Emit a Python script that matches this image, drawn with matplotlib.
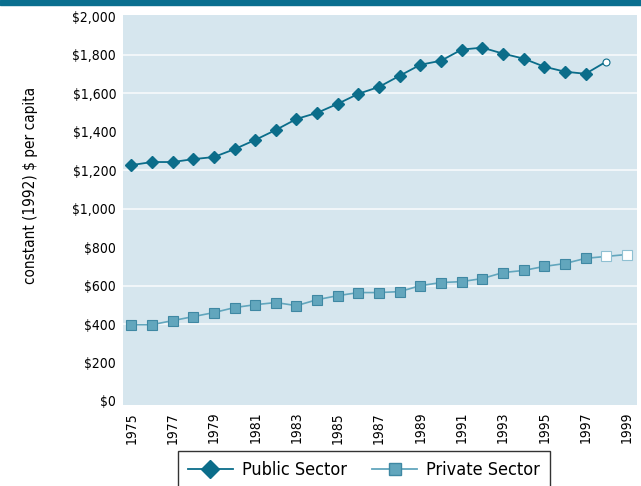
import numpy as np
import matplotlib.pyplot as plt
from matplotlib.lines import Line2D

years = np.arange(1975, 2000)
public = [1227, 1243, 1243, 1258, 1269, 1310, 1358, 1410, 1467, 1499, 1546, 1598,
          1634, 1692, 1749, 1770, 1828, 1838, 1807, 1781, 1739, 1713, 1702, 1765]
private = [397, 397, 418, 439, 460, 486, 501, 512, 496, 527, 548, 564, 564, 569,
           600, 616, 621, 637, 668, 679, 700, 715, 742, 752, 762]
n_public_solid = 23
n_private_solid = 23

yticks = [0, 200, 400, 600, 800, 1000, 1200, 1400, 1600, 1800, 2000]
ytick_labels = ['$0', '$200', '$400', '$600', '$800', '$1,000', '$1,200',
                '$1,400', '$1,600', '$1,800', '$2,000']
grid_levels = [400, 600, 1000, 1200, 1600, 1800]
xticks = np.arange(1975, 2000, 2)

pub_c = '#0b6d8a'
priv_c = '#62a6bd'
priv_edge = '#3f88a3'
bg = '#d6e6ee'

plt.rcParams['font.family'] = ['DejaVu Sans']
plt.rcParams['font.stretch'] = 'condensed'
plt.rcParams['font.size'] = 10

fig = plt.figure(figsize=(6.41, 4.86), dpi=100)
ax = fig.add_axes([0.192, 0.167, 0.802, 0.803])
ax.set_facecolor(bg)

for g in grid_levels:
    ax.axhline(g, color='white', lw=1.2, alpha=0.8, zorder=1)

pyr = years[:len(public)]
ax.plot(pyr, public, color=pub_c, lw=1.3, zorder=2)
ax.plot(pyr[:n_public_solid], public[:n_public_solid], ls='none', marker='D', ms=6,
        mfc=pub_c, mec=pub_c, zorder=3)
ax.plot(pyr[n_public_solid:], public[n_public_solid:], ls='none', marker='o', ms=5,
        mfc='white', mec=pub_c, mew=0.8, zorder=3)

ax.plot(years, private, color=priv_c, lw=1.2, zorder=2)
ax.plot(years[:n_private_solid], private[:n_private_solid], ls='none', marker='s', ms=7,
        mfc=priv_c, mec=priv_edge, mew=0.8, zorder=3)
ax.plot(years[n_private_solid:], private[n_private_solid:], ls='none', marker='s', ms=7,
        mfc='white', mec='#8fc0d2', mew=0.8, zorder=3)

ax.set_xlim(1974.6, 1999.5)
ax.set_ylim(-20, 2010)
ax.set_yticks(yticks)
ax.set_yticklabels(ytick_labels, fontsize=10)
ax.set_xticks(xticks)
ax.set_xticklabels([str(x) for x in xticks], rotation=90, fontsize=10)
ax.tick_params(length=0, pad=5)
for s in ax.spines.values():
    s.set_visible(False)
fig.text(0.048, 1 - 185 / 486, 'constant (1992) $ per capita', fontsize=11,
         rotation=90, ha='center', va='center')

handles = [Line2D([], [], color=pub_c, lw=1.3, marker='D', ms=9, mfc=pub_c, mec=pub_c),
           Line2D([], [], color=priv_c, lw=1.3, marker='s', ms=9, mfc=priv_c, mec=priv_edge)]
leg = fig.legend(handles, ['Public Sector', 'Private Sector'], loc='upper center',
                 bbox_to_anchor=(0.568, 1 - 451 / 486), ncol=2, frameon=True, fontsize=13,
                 handlelength=2.5, handletextpad=0.5, columnspacing=1.4,
                 fancybox=False, borderpad=0.55, borderaxespad=0)
leg.get_frame().set_edgecolor('black')
leg.get_frame().set_linewidth(1.0)

fig.patches.append(plt.Rectangle((0, 0.99), 1, 0.01, transform=fig.transFigure,
                                 color='#0a6f8f', zorder=0))

fig.savefig('out.png', dpi=100)
